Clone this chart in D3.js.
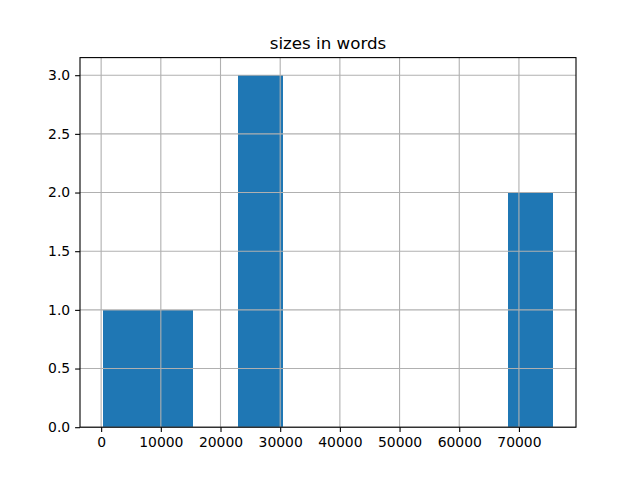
<!DOCTYPE html>
<html><head><meta charset="utf-8">
<script src="https://cdn.jsdelivr.net/npm/d3@7"></script>
<style>body{margin:0;background:#fff}svg{display:block}text{font-family:"DejaVu Sans",sans-serif}</style>
</head><body>
<svg id="c" width="640" height="480"></svg>
<script>
const binEdges = [235, 7790, 15345, 22900, 30455, 38010, 45565, 53120, 60675, 68230, 75785];
const binCounts = [1, 1, 0, 3, 0, 0, 0, 0, 0, 2];
const xTicks = [0, 10000, 20000, 30000, 40000, 50000, 60000, 70000];
const yTicks = [0.0, 0.5, 1.0, 1.5, 2.0, 2.5, 3.0];
const title = "sizes in words";

const svg = d3.select("#c");
const L = 80, R = 576, T = 57.6, B = 427.2;
const span = binEdges[binEdges.length-1] - binEdges[0];
const x = d3.scaleLinear().domain([binEdges[0] - 0.05*span, binEdges[binEdges.length-1] + 0.05*span]).range([L, R]);
const y = d3.scaleLinear().domain([0, d3.max(binCounts)*1.05]).range([B, T]);

const bins = binCounts.map((c, i) => ({x0: binEdges[i], x1: binEdges[i+1], c}));
svg.append("g").attr("shape-rendering", "crispEdges")
  .selectAll("rect").data(bins.filter(d => d.c > 0)).join("rect")
  .attr("x", d => Math.round(x(d.x0))).attr("width", d => Math.round(x(d.x1)) - Math.round(x(d.x0)))
  .attr("y", d => Math.round(y(d.c))).attr("height", d => Math.round(y(0)) - Math.round(y(d.c)))
  .attr("fill", "#1f77b4");

// grid
const g = svg.append("g").attr("stroke", "#b0b0b0").attr("stroke-width", 1.1);
g.selectAll("line.v").data(xTicks).join("line").attr("class","v")
  .attr("x1", d => x(d)).attr("x2", d => x(d)).attr("y1", T).attr("y2", B);
g.selectAll("line.h").data(yTicks).join("line").attr("class","h")
  .attr("y1", d => y(d)).attr("y2", d => y(d)).attr("x1", L).attr("x2", R);

const xAxis = d3.axisBottom(x).tickValues(xTicks).tickFormat(d3.format("d")).tickSize(4.9).tickPadding(4.9);
const yAxis = d3.axisLeft(y).tickValues(yTicks).tickFormat(d3.format(".1f")).tickSize(4.9).tickPadding(4.9);
const xa = svg.append("g").attr("transform", `translate(0,${B})`).call(xAxis);
const ya = svg.append("g").attr("transform", `translate(${L},0)`).call(yAxis);
[xa, ya].forEach(a => {
  a.select(".domain").remove();
  a.selectAll("line").attr("stroke", "#000").attr("stroke-width", 1.1);
  a.selectAll("text").attr("font-size", 13.9).attr("fill", "#000").attr("font-family", "DejaVu Sans");
});

svg.append("rect").attr("x", L).attr("y", T).attr("width", R-L).attr("height", B-T)
  .attr("fill", "none").attr("stroke", "#000").attr("stroke-width", 1.1);

svg.append("text").attr("x", (L+R)/2).attr("y", T - 8.3).attr("text-anchor", "middle")
  .attr("font-size", 16.7).attr("fill", "#000").text(title);
</script>
</body></html>
